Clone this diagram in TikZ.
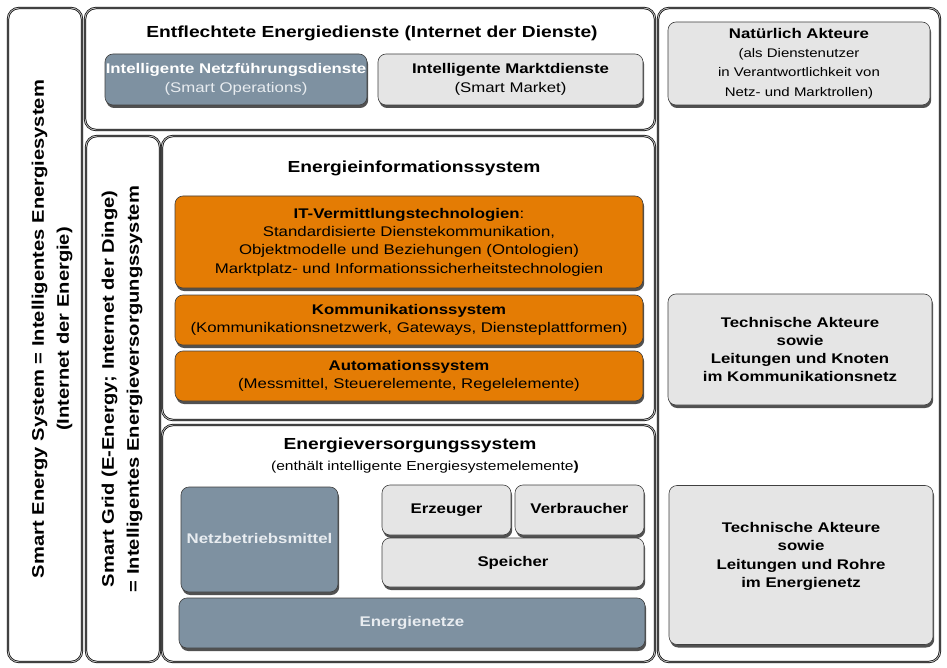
\documentclass[tikz,border=0pt]{standalone}
\usepackage{fontspec}
\setmainfont{Liberation Sans}[FakeStretch=1.2]
\usetikzlibrary{shadows}
\definecolor{orangebox}{RGB}{228,124,4}
\definecolor{bluebox}{RGB}{126,145,161}
\definecolor{greybox}{RGB}{229,229,229}
\definecolor{paletext}{RGB}{232,236,240}
\tikzset{
  frame/.style={draw=black, line width=0.7pt, double=gray!55, double distance=0.9pt,
    rounded corners=11pt, fill=white, inner sep=0pt},
  tile/.style={draw=black!75, line width=0.6pt, rounded corners=8pt, inner sep=0pt,
    align=center, font=\fontsize{14}{18.3}\selectfont,
    drop shadow={shadow xshift=1.2pt, shadow yshift=-3pt, fill=black!80, opacity=0.85}},
  boldtile/.style={font=\fontsize{14}{18.3}\selectfont\bfseries},
  orangetile/.style={tile, fill=orangebox},
  bluetile/.style={tile, fill=bluebox, text=white},
  greytile/.style={tile, fill=greybox},
  heading/.style={font=\fontsize{16}{19}\selectfont\bfseries, inner sep=0pt, align=center},
  sidetext/.style={font=\fontsize{16.8}{25}\selectfont\bfseries, inner sep=0pt, align=center, rotate=90},
}
\begin{document}
\begin{tikzpicture}[x=1pt,y=-1pt]
\useasboundingbox (0,0) rectangle (947,668);

% outer layers
\node[frame, minimum width=74, minimum height=654] (ses) at (45,335) {};
\node[frame, minimum width=570, minimum height=122] (dienste) at (370,69) {};
\node[frame, minimum width=74, minimum height=526] (grid) at (123,399) {};
\node[frame, minimum width=493, minimum height=284] (eis) at (408.5,278) {};
\node[frame, minimum width=493, minimum height=237] (evs) at (408.5,543.5) {};
\node[frame, minimum width=282, minimum height=654] (akteure) at (799,335) {};

% vertical labels
\node[sidetext] (sestext) at (52,329) {Smart Energy System = Intelligentes Energiesystem\\(Internet der Energie)};
\node[sidetext] (gridtext) at (122,389) {Smart Grid (E-Energy; Internet der Dinge)\\= Intelligentes Energieversorgungssystem};

% services layer
\node[heading] (dtitle) at (372,33) {Entflechtete Energiedienste (Internet der Dienste)};
\node[bluetile, minimum width=262, minimum height=51] (netzf) at (236,79.5)
  {\textbf{Intelligente Netzführungsdienste}\\\textcolor{paletext}{(Smart Operations)}};
\node[greytile, minimum width=265, minimum height=51] (markt) at (510.5,79.5)
  {\textbf{Intelligente Marktdienste}\\(Smart Market)};

% information system
\node[heading] (eistitle) at (414,168) {Energieinformationssystem};
\node[orangetile, minimum width=468, minimum height=92] (itv) at (409,242)
  {\textbf{IT-Vermittlungstechnologien}:\\Standardisierte Dienstekommunikation,\\Objektmodelle und Beziehungen (Ontologien)\\Marktplatz- und Informationssicherheitstechnologien};
\node[orangetile, minimum width=468, minimum height=50] (komm) at (409,320)
  {\textbf{Kommunikationssystem}\\(Kommunikationsnetzwerk, Gateways, Diensteplattformen)};
\node[orangetile, minimum width=468, minimum height=50] (auto) at (409,376)
  {\textbf{Automationssystem}\\(Messmittel, Steuerelemente, Regelelemente)};

% energy supply system
\node[heading] (evstitle) at (410,445) {Energieversorgungssystem};
\node[inner sep=0pt, font=\fontsize{13}{18}\selectfont] (evssub) at (425,467)
  {(enthält intelligente Energiesystemelemente\textbf{)}};
\node[bluetile, boldtile, minimum width=157, minimum height=105, text=paletext] (netzb) at (259.5,539.5) {\strut Netzbetriebsmittel};
\node[greytile, boldtile, minimum width=129, minimum height=50] (erz) at (446.5,510) {\strut Erzeuger};
\node[greytile, boldtile, minimum width=129, minimum height=50] (verb) at (579.5,510) {\strut Verbraucher};
\node[greytile, boldtile, minimum width=262, minimum height=49] (speich) at (513,562.5) {\strut Speicher};
\node[bluetile, boldtile, minimum width=466, minimum height=50, text=paletext] (enetze) at (412,623) {\strut Energienetze};

% actors column
\node[greytile, minimum width=262, minimum height=83, font=\fontsize{12.5}{19.3}\selectfont] (natur) at (799,63.5)
  {{\fontsize{14}{19.3}\selectfont\bfseries Natürlich Akteure}\\(als Dienstenutzer\\in Verantwortlichkeit von\\Netz- und Marktrollen)};
\node[greytile, boldtile, minimum width=264, minimum height=111] (tech1) at (800,349.5)
  {Technische Akteure\\sowie\\Leitungen und Knoten\\im Kommunikationsnetz};
\node[greytile, boldtile, minimum width=264, minimum height=159] (tech2) at (801,565)
  {Technische Akteure\\sowie\\Leitungen und Rohre\\im Energienetz\\[2pt]};
\end{tikzpicture}
\end{document}
